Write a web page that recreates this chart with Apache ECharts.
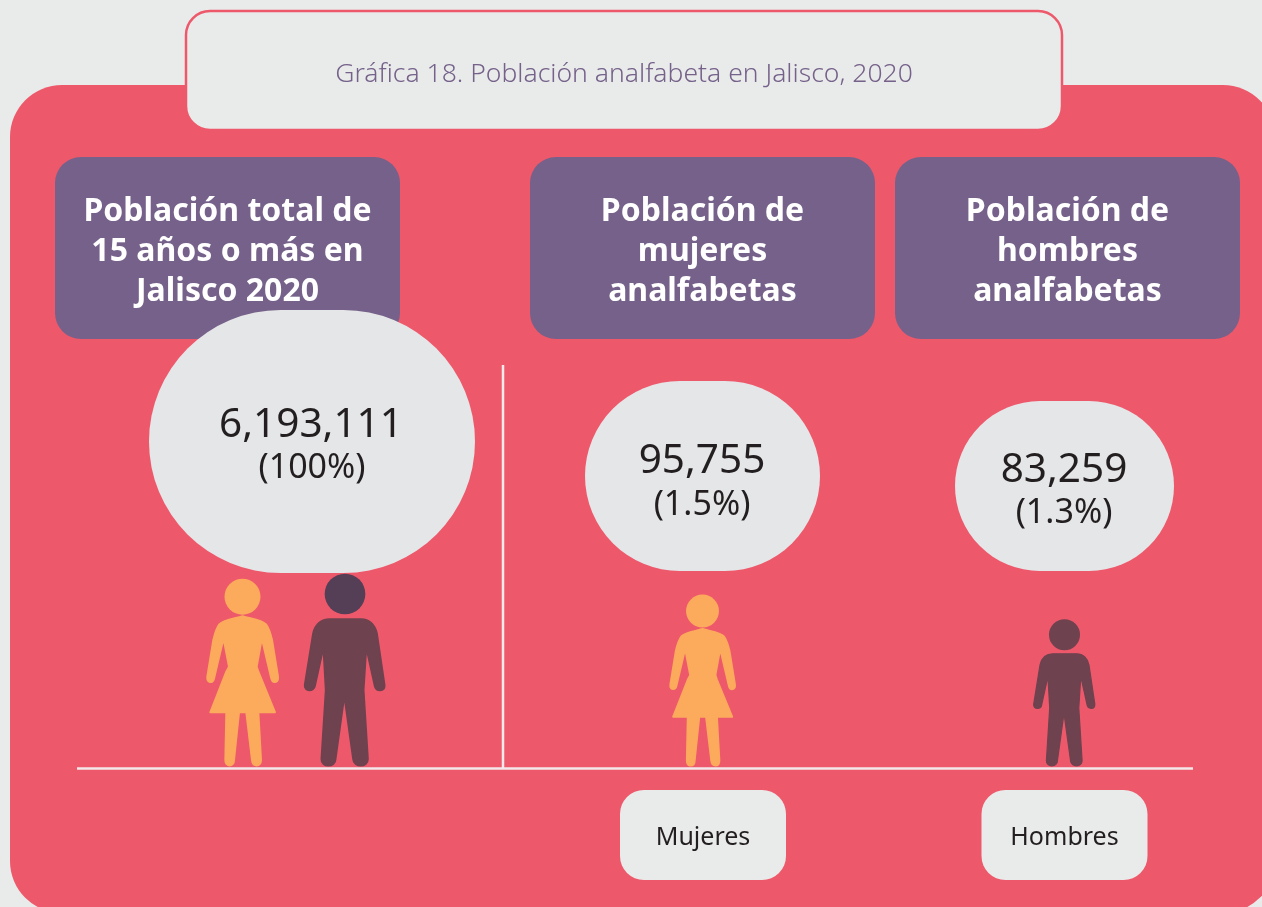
<!DOCTYPE html>
<html>
<head>
<meta charset="utf-8">
<title>Gráfica 18</title>
<script src="https://cdn.jsdelivr.net/npm/echarts@6/dist/echarts.min.js"></script>
<style>
  html, body { margin: 0; padding: 0; background: #e9ebea; }
  #main { width: 1262px; height: 907px; }
</style>
</head>
<body>
<div id="main"></div>
<script>
// datos
const chartTitle = 'Gráfica 18. Población analfabeta en Jalisco, 2020'
const headers = ['Población total de\n15 años o más en\nJalisco 2020', 'Población de\nmujeres\nanalfabetas', 'Población de\nhombres\nanalfabetas']
const values = ['6,193,111', '95,755', '83,259']
const percents = ['(100%)', '(1.5%)', '(1.3%)']
const categories = ['Mujeres', 'Hombres']

const RED = '#ee586b'
const PURPLE = '#75618a'
const BUBBLE = '#e5e6e8'
const PAPER = '#e9ebea'
const ORANGE = '#fcaa5c'
const MAROON = '#6f424f'
const PLUM = '#553f56'
const LINE = '#f3e9ea'
const INK = '#231f20'
const FONT = '"Noto Sans", sans-serif'

// siluetas dibujadas en pixeles de zoom (origen: centro x, pies y)
const womanPath = 'M0 -450 C-25 -442 -55 -440 -70 -425 C-80 -412 -84 -395 -88 -378 L-106 -268 ' +
  'C-108 -248 -88 -246 -85 -262 L-57 -381 L-41 -298 L-49 -283 L-97 -161 L-49 -161 L-52 -18 ' +
  'C-52 5 -25 5 -25 -18 L-10 -161 L11 -161 L28 -18 C30 5 56 5 56 -18 L48 -161 L98 -161 ' +
  'L48 -283 L43 -298 L58 -381 L86 -262 C90 -246 109 -248 107 -268 L89 -378 C85 -395 81 -412 71 -425 C56 -440 25 -442 0 -450 Z'
const manPath = 'M-46 -441 C-72 -441 -90 -424 -96 -398 L-121 -243 C-124 -222 -92 -222 -90 -240 L-65 -353 ' +
  'L-58 -228 L-71 -21 C-72 6 -28 6 -28 -21 L-2 -208 L24 -21 C26 6 69 6 69 -21 L56 -228 L64 -353 ' +
  'L89 -240 C93 -222 120 -222 119 -243 L96 -398 C90 -424 72 -441 49 -441 Z'

echarts.graphic.registerShape('womanBody', echarts.graphic.extendPath(womanPath, {}))
echarts.graphic.registerShape('manBody', echarts.graphic.extendPath(manPath, {}))

function person (shape, cx, feet, scale, bodyColor, headColor, headY, headR) {
  return {
    type: 'group',
    x: cx,
    y: feet,
    scaleX: scale / 3,
    scaleY: scale / 3,
    z: 6,
    children: [
      { type: 'circle', z: 6, shape: { cx: 0, cy: headY, r: headR }, style: { fill: headColor } },
      { type: shape, z: 6, style: { fill: bodyColor, stroke: bodyColor, lineWidth: 5, lineJoin: 'round' } }
    ]
  }
}

function box (x, y, w, h, r, fill, z) {
  return { type: 'rect', z: z || 1, shape: { x: x, y: y, width: w, height: h, r: r }, style: { fill: fill } }
}

function label (text, x, y, size, color, weight, lh) {
  return {
    type: 'text',
    z: 5,
    x: x,
    y: y,
    style: {
      text: text,
      fill: color,
      font: (weight || 400) + ' ' + size + 'px ' + FONT,
      lineHeight: lh,
      align: 'center',
      verticalAlign: 'middle'
    }
  }
}

const headerX = [227.5, 702.5, 1067.5]
const bubbleX = [149, 585, 955]
const bubbleY = [310, 381, 401]
const bubbleW = [326, 235, 219]
const bubbleH = [263, 190, 170]
const valueX = [311, 702, 1064]
const valueY = [425, 461, 470]
const pctY = [468, 505, 513]
const catX = [703, 1064.5]

const elements = [
  box(10, 85, 1265, 828, 52, RED),
  { type: 'rect', z: 2, shape: { x: 186, y: 11, width: 876, height: 119, r: 24 }, style: { fill: PAPER, stroke: RED, lineWidth: 2.5 } },
  label(chartTitle, 624, 74, 26.5, PURPLE, 300)
]

headerX.forEach(function (cx, i) {
  elements.push(box(cx - 172.5, 157, 345, 182, 26, PURPLE, 3))
  elements.push(label(headers[i], cx, 252, 32, '#ffffff', 700, 40))
  elements.push(box(bubbleX[i], bubbleY[i], bubbleW[i], bubbleH[i], bubbleH[i] / 2, BUBBLE, 4))
  elements.push(label(values[i], valueX[i], valueY[i], 40.5, INK, 400))
  elements.push(label(percents[i], valueX[i] + (i === 0 ? 1 : 0), pctY[i], 34, INK, 400))
})

categories.forEach(function (c, i) {
  elements.push(box(catX[i] - 83, 790, 166, 90, 24, PAPER, 3))
  elements.push(label(c, catX[i], 838, 25, INK, 400))
})

elements.push({ type: 'line', z: 3, shape: { x1: 77, y1: 768.5, x2: 1193, y2: 768.5 }, style: { stroke: LINE, lineWidth: 2.5 } })
elements.push({ type: 'line', z: 3, shape: { x1: 503, y1: 365, x2: 503, y2: 768 }, style: { stroke: LINE, lineWidth: 2.5 } })

elements.push(person('womanBody', 242.5, 766, 1, ORANGE, ORANGE, -508, 54))
elements.push(person('manBody', 345, 766, 1, MAROON, PLUM, -516, 61))
elements.push(person('womanBody', 702.5, 766, 0.915, ORANGE, ORANGE, -508, 54))
elements.push(person('manBody', 1064.5, 766, 0.763, MAROON, MAROON, -516, 61))

const chart = echarts.init(document.getElementById('main'), null, { renderer: 'canvas' })
chart.setOption({
  backgroundColor: PAPER,
  animation: false,
  graphic: { elements: elements }
})
</script>
</body>
</html>
